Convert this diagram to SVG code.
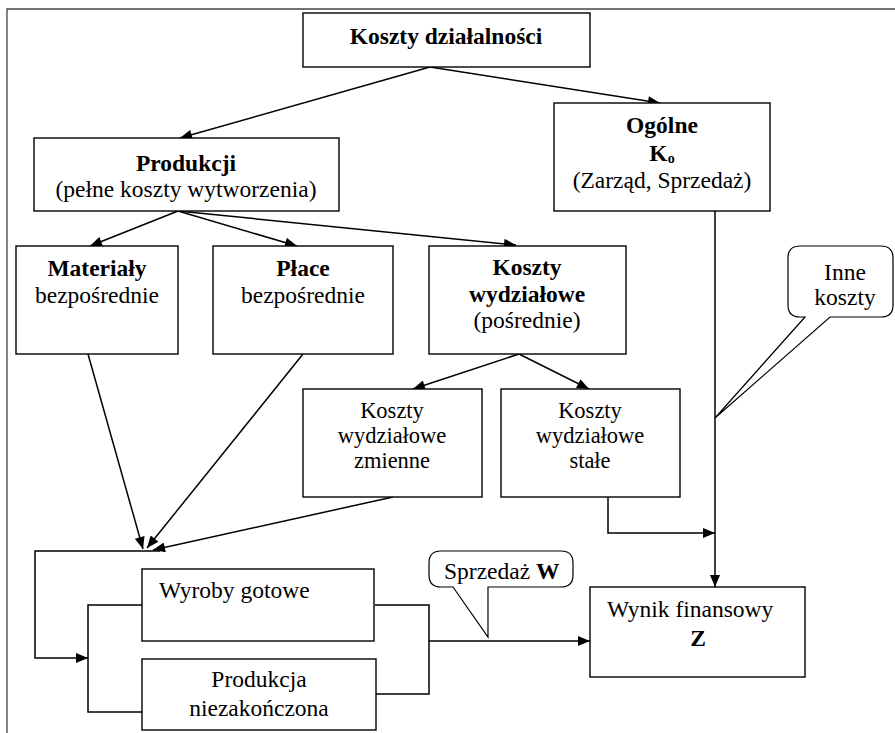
<svg xmlns="http://www.w3.org/2000/svg" width="895" height="733" viewBox="0 0 895 733">
  <style>
    .box { fill: #fff; stroke: #000; stroke-width: 1.4; }
    .ln { fill: none; stroke: #000; stroke-width: 1.5; }
    .call { fill: #fff; stroke: #000; stroke-width: 1.2; }
    text { font-family: "Liberation Serif", "Times New Roman", serif; font-size: 23.5px; fill: #000; }
    .c { text-anchor: middle; }
    .b { font-weight: bold; }
    .s { font-size: 22.5px; }
  </style>
  <defs>
    <marker id="arr" viewBox="0 0 12 10" refX="12" refY="5" markerWidth="13" markerHeight="10" markerUnits="userSpaceOnUse" orient="auto">
      <path d="M0,0 L12,5 L0,10 z" fill="#000"/>
    </marker>
  </defs>
  <rect width="895" height="733" fill="#fff"/>

  <!-- page frame -->
  <path d="M7,733 V9 H895" fill="none" stroke="#444" stroke-width="1.3"/>

  <!-- connectors -->
  <g id="connectors">
    <line class="ln" x1="430" y1="67" x2="180" y2="138" marker-end="url(#arr)"/>
    <line class="ln" x1="430" y1="67" x2="660" y2="103" marker-end="url(#arr)"/>
    <line class="ln" x1="178" y1="211" x2="90" y2="246" marker-end="url(#arr)"/>
    <line class="ln" x1="178" y1="211" x2="297" y2="246" marker-end="url(#arr)"/>
    <line class="ln" x1="178" y1="211" x2="516" y2="245" marker-end="url(#arr)"/>
    <line class="ln" x1="519" y1="354" x2="413" y2="389" marker-end="url(#arr)"/>
    <line class="ln" x1="519" y1="354" x2="589" y2="389" marker-end="url(#arr)"/>
    <line class="ln" x1="88" y1="354" x2="143" y2="549" marker-end="url(#arr)"/>
    <line class="ln" x1="303" y1="354" x2="147" y2="548" marker-end="url(#arr)"/>
    <line class="ln" x1="393" y1="497" x2="153" y2="550" marker-end="url(#arr)"/>
    <path class="ln" d="M160,551 H35 V658 H88" marker-end="url(#arr)"/>
    <path class="ln" d="M142,605 H88 V712 H143"/>
    <path class="ln" d="M375,605 H429 V694 H376"/>
    <path class="ln" d="M429,641 H590" marker-end="url(#arr)"/>
    <path class="ln" d="M608,497 V533 H715" marker-end="url(#arr)"/>
    <path class="ln" d="M715,211 V587" marker-end="url(#arr)"/>
  </g>

  <g id="koszty-dzialalnosci">
    <rect class="box" x="303" y="13" width="287" height="54"/>
    <text class="c b" x="446" y="44">Koszty działalności</text>
  </g>

  <g id="produkcji">
    <rect class="box" x="34" y="138" width="305" height="73"/>
    <text class="c b" x="186" y="171">Produkcji</text>
    <text class="c" x="186" y="197">(pełne koszty wytworzenia)</text>
  </g>

  <g id="ogolne">
    <rect class="box" x="554" y="103" width="216" height="108"/>
    <text class="c b" x="662" y="133">Ogólne</text>
    <text class="c b" x="662" y="161">K<tspan font-size="14" dy="2">o</tspan></text>
    <text class="c" x="662" y="188">(Zarząd, Sprzedaż)</text>
  </g>

  <g id="materialy">
    <rect class="box" x="16" y="246" width="162" height="108"/>
    <text class="c b" x="97" y="276">Materiały</text>
    <text class="c" x="97" y="303">bezpośrednie</text>
  </g>

  <g id="place">
    <rect class="box" x="213" y="246" width="180" height="108"/>
    <text class="c b" x="303" y="276">Płace</text>
    <text class="c" x="303" y="303">bezpośrednie</text>
  </g>

  <g id="koszty-wydzialowe">
    <rect class="box" x="429" y="246" width="197" height="108"/>
    <text class="c b" x="527" y="275">Koszty</text>
    <text class="c b" x="527" y="302">wydziałowe</text>
    <text class="c" x="527" y="328">(pośrednie)</text>
  </g>

  <g id="wydzialowe-zmienne">
    <rect class="box" x="303" y="389" width="179" height="108"/>
    <text class="c s" x="392" y="418">Koszty</text>
    <text class="c s" x="392" y="443">wydziałowe</text>
    <text class="c s" x="392" y="468">zmienne</text>
  </g>

  <g id="wydzialowe-stale">
    <rect class="box" x="501" y="389" width="179" height="108"/>
    <text class="c s" x="590" y="418">Koszty</text>
    <text class="c s" x="590" y="443">wydziałowe</text>
    <text class="c s" x="590" y="468">stałe</text>
  </g>

  <g id="inne-koszty">
    <path class="call" d="M800,246 H881 Q893,246 893,258 V305 Q893,317 881,317 H830 L715,418 L805,317 H800 Q788,317 788,305 V258 Q788,246 800,246 Z"/>
    <text class="c" x="845" y="280">Inne</text>
    <text class="c" x="845" y="305">koszty</text>
  </g>

  <g id="wyroby-gotowe">
    <rect class="box" x="142" y="569" width="232" height="72"/>
    <text x="159" y="598">Wyroby gotowe</text>
  </g>

  <g id="produkcja-niezakonczona">
    <rect class="box" x="142" y="659" width="234" height="71"/>
    <text class="c" x="259" y="687">Produkcja</text>
    <text class="c" x="259" y="716">niezakończona</text>
  </g>

  <g id="sprzedaz">
    <path class="call" d="M441,551 H561 Q573,551 573,563 V575 Q573,587 561,587 H488 V637 L453,587 H441 Q429,587 429,575 V563 Q429,551 441,551 Z"/>
    <text x="444" y="579">Sprzedaż <tspan class="b">W</tspan></text>
  </g>

  <g id="wynik-finansowy">
    <rect class="box" x="590" y="587" width="215" height="90"/>
    <text x="607" y="617">Wynik finansowy</text>
    <text class="c b" x="698" y="646">Z</text>
  </g>
</svg>
